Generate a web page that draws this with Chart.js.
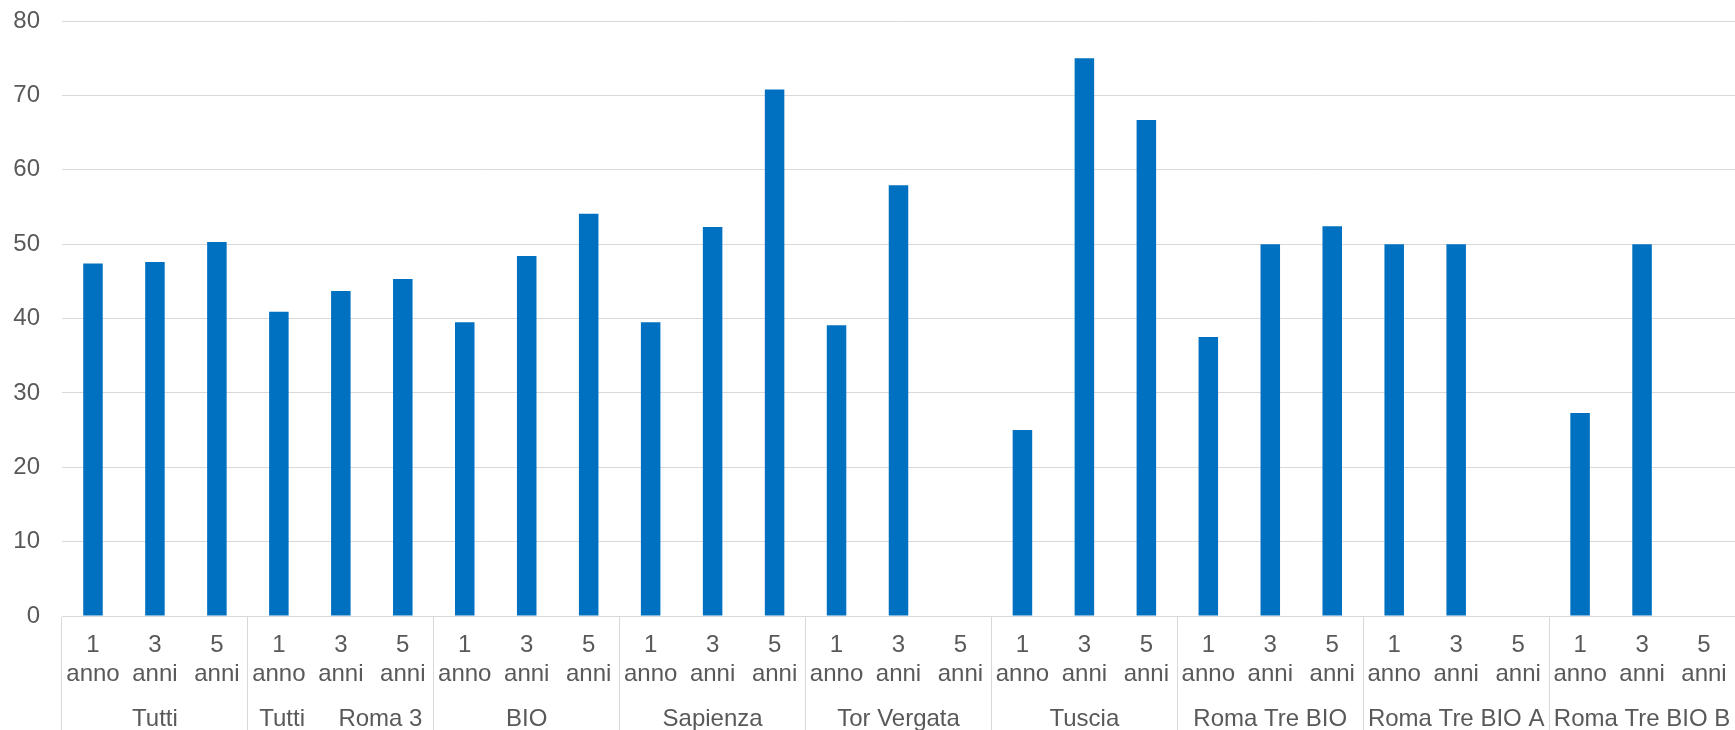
<!DOCTYPE html>
<html>
    <head>
        <title>Chart</title>
        <script src="https://cdn.jsdelivr.net/npm/chart.js@4/dist/chart.umd.min.js"></script>
        <style>
            body { margin: 0; background: #fff; }
        </style>
    </head>
    <body>
        <canvas id="chart" width="1735" height="730"></canvas>

        <script>
            const groups = [
                'Tutti',
                'Tutti     Roma 3',
                'BIO',
                'Sapienza',
                'Tor Vergata',
                'Tuscia',
                'Roma Tre BIO',
                'Roma Tre BIO A',
                'Roma Tre BIO B',
            ]
            const periods = [['1', 'anno'], ['3', 'anni'], ['5', 'anni']]
            // one value per group x period, null = no bar
            const values = [
                47.4, 47.6, 50.3,
                40.9, 43.7, 45.3,
                39.5, 48.4, 54.1,
                39.5, 52.3, 70.8,
                39.1, 57.9, null,
                25.0, 75.0, 66.7,
                37.5, 50.0, 52.4,
                50.0, 50.0, null,
                27.3, 50.0, null,
            ]
            const yMin = 0
            const yMax = 80
            const yStep = 10

            const labels = []
            groups.forEach(() => periods.forEach(p => labels.push(p)))

            Chart.defaults.font.family = "'Liberation Sans', Arial, sans-serif"
            Chart.defaults.font.size = 24
            Chart.defaults.color = '#595959'

            const gridColor = '#d9d9d9'

            // keep the plot area fixed: no extra room for overhanging labels
            const noPad = s => {
                s.paddingLeft = 0
                s.paddingRight = 0
                s.paddingTop = 0
                s.paddingBottom = 0
            }

            new Chart('chart', {
                type: 'bar',
                data: {
                    labels: labels,
                    datasets: [
                        {
                            data: values,
                            backgroundColor: '#0070c0',
                            barPercentage: 0.315,
                            categoryPercentage: 1,
                        },
                    ],
                },
                options: {
                    responsive: false,
                    animation: false,
                    layout: { padding: { top: 21, left: 0, right: 0, bottom: 0 } },
                    plugins: {
                        legend: { display: false },
                        tooltip: { enabled: false },
                    },
                    scales: {
                        x: {
                            weight: 0,
                            offset: true,
                            grid: {
                                offset: true,
                                drawOnChartArea: false,
                                tickLength: 114,
                                // only the group separators
                                color: ctx => (ctx.index % 3 === 0 ? gridColor : 'rgba(0,0,0,0)'),
                            },
                            border: { color: gridColor },
                            ticks: { autoSkip: false, maxRotation: 0, padding: -99 },
                            afterFit: s => { s.height = 70; noPad(s) },
                        },
                        x2: {
                            type: 'category',
                            position: 'bottom',
                            weight: 1,
                            labels: groups,
                            offset: true,
                            grid: { display: false },
                            border: { display: false },
                            ticks: { autoSkip: false, maxRotation: 0, padding: 11 },
                            afterFit: s => { s.height = 44; noPad(s) },
                        },
                        y: {
                            min: yMin,
                            max: yMax,
                            ticks: { stepSize: yStep, padding: 22 },
                            grid: { color: gridColor, drawTicks: false },
                            border: { display: false },
                            afterFit: s => { s.width = 62; noPad(s) },
                        },
                    },
                },
            })
        </script>
    </body>
</html>
